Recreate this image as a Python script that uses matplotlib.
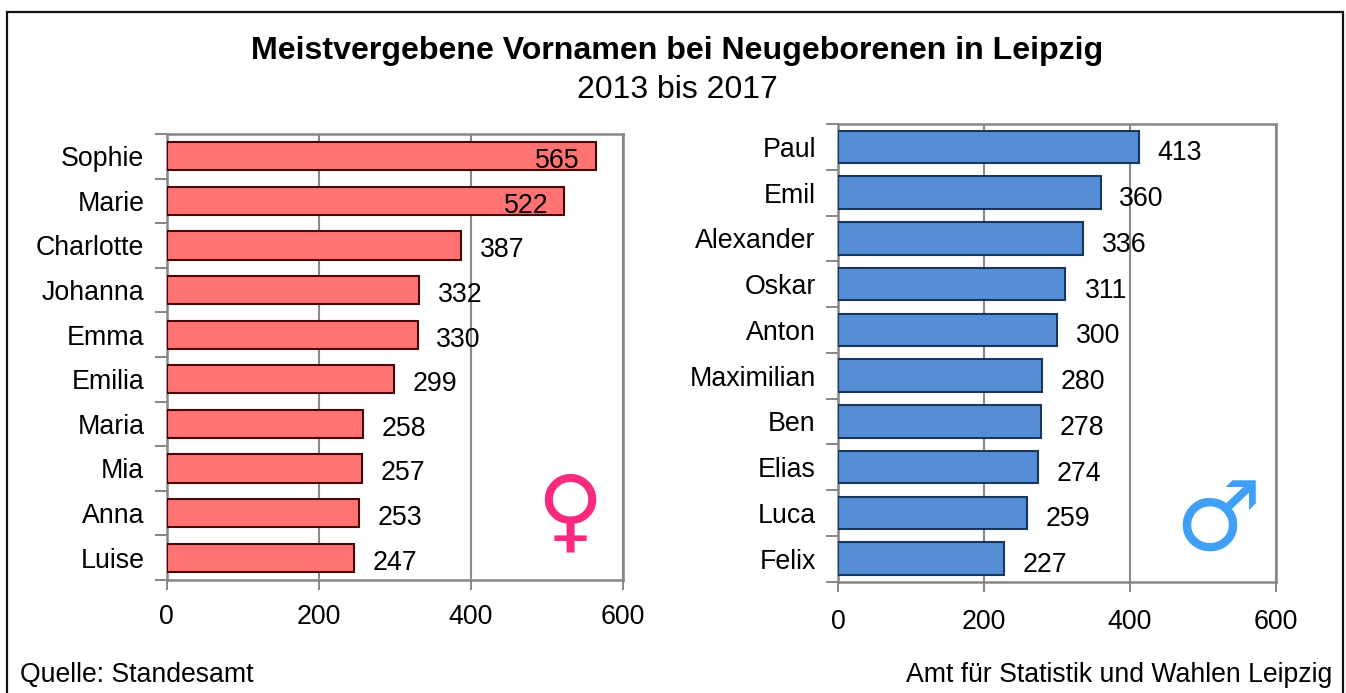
import matplotlib
matplotlib.use("Agg")
import matplotlib.pyplot as plt
import numpy as np
from matplotlib.patches import Rectangle

plt.rcParams['font.family'] = ['Liberation Sans', 'DejaVu Sans']

# Data
names_f = ['Sophie', 'Marie', 'Charlotte', 'Johanna', 'Emma', 'Emilia', 'Maria', 'Mia', 'Anna', 'Luise']
values_f = [565, 522, 387, 332, 330, 299, 258, 257, 253, 247]
names_m = ['Paul', 'Emil', 'Alexander', 'Oskar', 'Anton', 'Maximilian', 'Ben', 'Elias', 'Luca', 'Felix']
values_m = [413, 360, 336, 311, 300, 280, 278, 274, 259, 227]
x_ticks = [0, 200, 400, 600]

W, H = 1346, 693
fig = plt.figure(figsize=(W / 100, H / 100), dpi=100)

# outer frame
fig.add_artist(Rectangle((7 / W, -0.01), 1336 / W, 1 - 12 / H + 0.01, transform=fig.transFigure,
                         fill=False, edgecolor='#111111', linewidth=1.6))


def make_panel(box, names, values, color, edge, bar_h, label_dy, x_pad, offsets):
    left, top, right, bottom = box
    ax = fig.add_axes([left / W, 1 - bottom / H, (right - left) / W, (bottom - top) / H])
    y = np.arange(len(names))
    ax.barh(y, values, height=bar_h, color=color, edgecolor=edge, linewidth=1.5, zorder=3)
    ax.set_xlim(0, 600)
    ax.set_ylim(len(names) - 0.5, -0.5)
    ax.set_xticks(x_ticks)
    ax.set_yticks(np.arange(len(names) + 1) - 0.5)
    ax.set_yticklabels([])
    ax.set_yticks(y, names, minor=True)
    ax.tick_params(axis='y', which='major', length=9, width=1.4, color='#868686', direction='out')
    ax.tick_params(axis='y', which='minor', length=0, pad=16, labelsize=19.3)
    ax.tick_params(axis='x', length=7, width=1.4, color='#868686', labelsize=19.3, pad=x_pad)
    ax.grid(True, axis='x', color='#8a8a8a', linewidth=1.5, zorder=0)
    ax.set_axisbelow(True)
    for s in ax.spines.values():
        s.set_color('#868686')
        s.set_linewidth(1.8)
    for i, v in enumerate(values):
        ax.annotate(str(v), (v, i), xytext=(offsets.get(i, 29.5), label_dy), textcoords='offset points',
                    ha='center', va='center', fontsize=19.3, color='black', zorder=5)
    return ax


ax1 = make_panel((166.5, 134, 623, 580), names_f, values_f, '#FF7373', '#4A0606', 0.63, -3.5, 10.5, {0: -28, 1: -27})
ax2 = make_panel((838, 124, 1275.5, 581.5), names_m, values_m, '#558ED5', '#17375E', 0.71, -4.7, 12.5, {})

# title
fig.text(677 / W, 1 - 51 / H, 'Meistvergebene Vornamen bei Neugeborenen in Leipzig',
         ha='center', va='center', fontsize=23.1, fontweight='bold')
fig.text(677 / W, 1 - 90.5 / H, '2013 bis 2017', ha='center', va='center', fontsize=23)

# footer
fig.text(20 / W, 1 - 675 / H, 'Quelle: Standesamt', ha='left', va='center', fontsize=19.2)
fig.text(1332 / W, 1 - 675 / H, 'Amt für Statistik und Wahlen Leipzig', ha='right', va='center', fontsize=19.2)

# gender symbols
fig.text(569.5 / W, 1 - 514 / H, '\u2640', ha='center', va='center', fontsize=66, color='#F72A7F',
         family='DejaVu Sans')
fig.text(1218 / W, 1 - 524 / H, '\u2642', ha='center', va='center', fontsize=70, color='#3FA0F5',
         family='DejaVu Sans')

fig.savefig('out.png', dpi=100)
